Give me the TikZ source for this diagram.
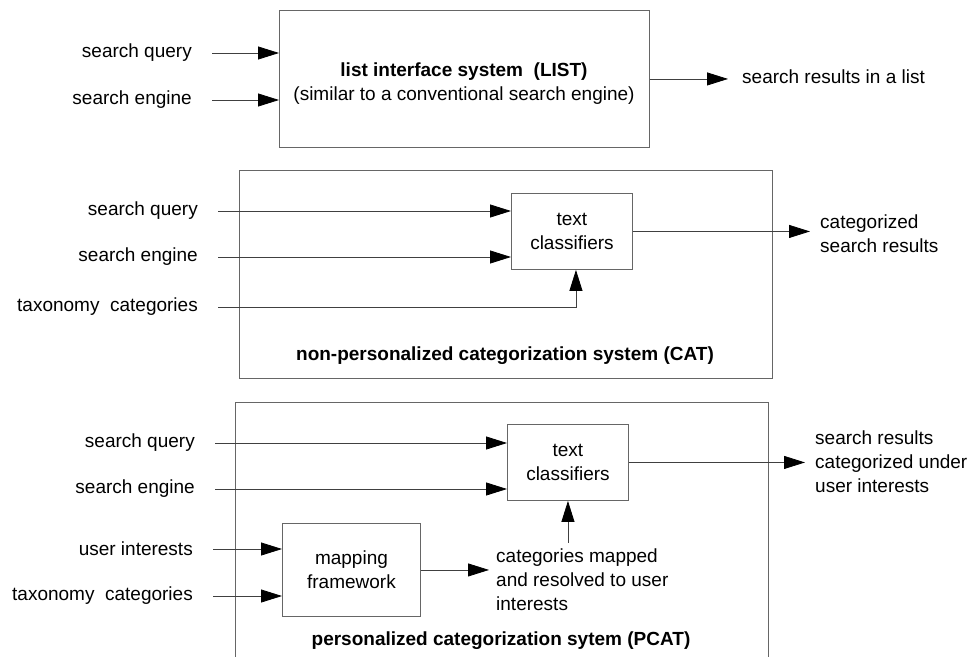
\documentclass[tikz,border=0pt]{standalone}
\usepackage{fontspec}
\setmainfont{Liberation Sans}
\usetikzlibrary{arrows.meta,positioning}

\begin{document}
\begin{tikzpicture}[x=1pt,y=-1pt,
>={Triangle[length=21pt,width=13pt,color=black]},
every node/.style={font=\fontsize{19}{24}\selectfont},
sysbox/.style={draw=black!60,line width=0.9pt,anchor=north west,inner sep=0pt,align=center},
procbox/.style={draw=black!60,line width=0.9pt,anchor=north west,inner sep=0pt,align=center},
inlabel/.style={anchor=east,inner xsep=20pt,inner ysep=0pt},
outlabel/.style={anchor=west,align=left,inner xsep=10pt,inner ysep=0pt},
systitle/.style={font=\fontsize{19}{24}\selectfont\bfseries},
flow/.style={->,draw=black!75,line width=0.8pt}]
\path[use as bounding box,clip] (0,0) rectangle (971,656);

% LIST
\node[sysbox,minimum width=370,minimum height=137] (list) at (279,10) {};
\node[align=center] (listtext) at (464,84)
  {\textbf{list interface system\ \ (LIST)}\\(similar to a conventional search engine)};
\node[inlabel] (lq) at (212,53) {search query};
\node[inlabel] (le) at (212,100) {search engine};
\node[outlabel,inner xsep=14pt] (lres) at (728,77) {search results in a list};
\draw[flow] (lq) -- (lq -| list.west);
\draw[flow] (le) -- (le -| list.west);
\draw[flow] (list) -- (list -| lres.west);

% CAT
\node[sysbox,minimum width=533,minimum height=208] (cat) at (239,170) {};
\node[systitle] (cattitle) at (505,356) {non-personalized categorization system (CAT)};
\node[procbox,minimum width=121,minimum height=76] (ctc) at (511,193) {text\\classifiers};
\node[inlabel] (cq) at (218,211) {search query};
\node[inlabel] (ce) at (218,257) {search engine};
\node[inlabel] (ct) at (218,307) {taxonomy\ \ categories};
\node[outlabel] (cres) at (810,234) {categorized\\search results};
\draw[flow] (cq) -- (cq -| ctc.west);
\draw[flow] (ce) -- (ce -| ctc.west);
\draw[flow] (ct) -| ([xshift=4pt]ctc.south);
\draw[flow] (ctc) -- (ctc -| cres.west);

% PCAT
\node[sysbox,minimum width=533,minimum height=280] (pcat) at (235,402) {};
\node[systitle] (pcattitle) at (501,641) {personalized categorization sytem (PCAT)};
\node[procbox,minimum width=121,minimum height=76] (pc) at (507,424) {text\\classifiers};
\node[procbox,minimum width=138,minimum height=93] (map) at (282,523) {mapping\\framework};
\node[inlabel] (pq) at (215,443) {search query};
\node[inlabel] (pe) at (215,489) {search engine};
\node[inlabel] (pu) at (213,549) {user interests};
\node[inlabel] (pt) at (213,596) {taxonomy\ \ categories};
\node[outlabel,inner xsep=7pt,inner ysep=6pt] (catmap) at (489,580)
  {categories mapped\\and resolved to user\\interests};
\node[outlabel] (pres) at (805,462) {search results\\categorized under\\user interests};
\draw[flow] (pq) -- (pq -| pc.west);
\draw[flow] (pe) -- (pe -| pc.west);
\draw[flow] (pu) -- (pu -| map.west);
\draw[flow] (pt) -- (pt -| map.west);
\draw[flow] (map) -- (map -| catmap.west);
\draw[flow] (catmap.north -| pc.south) -- (pc.south);
\draw[flow] (pc) -- (pc -| pres.west);
\end{tikzpicture}
\end{document}
